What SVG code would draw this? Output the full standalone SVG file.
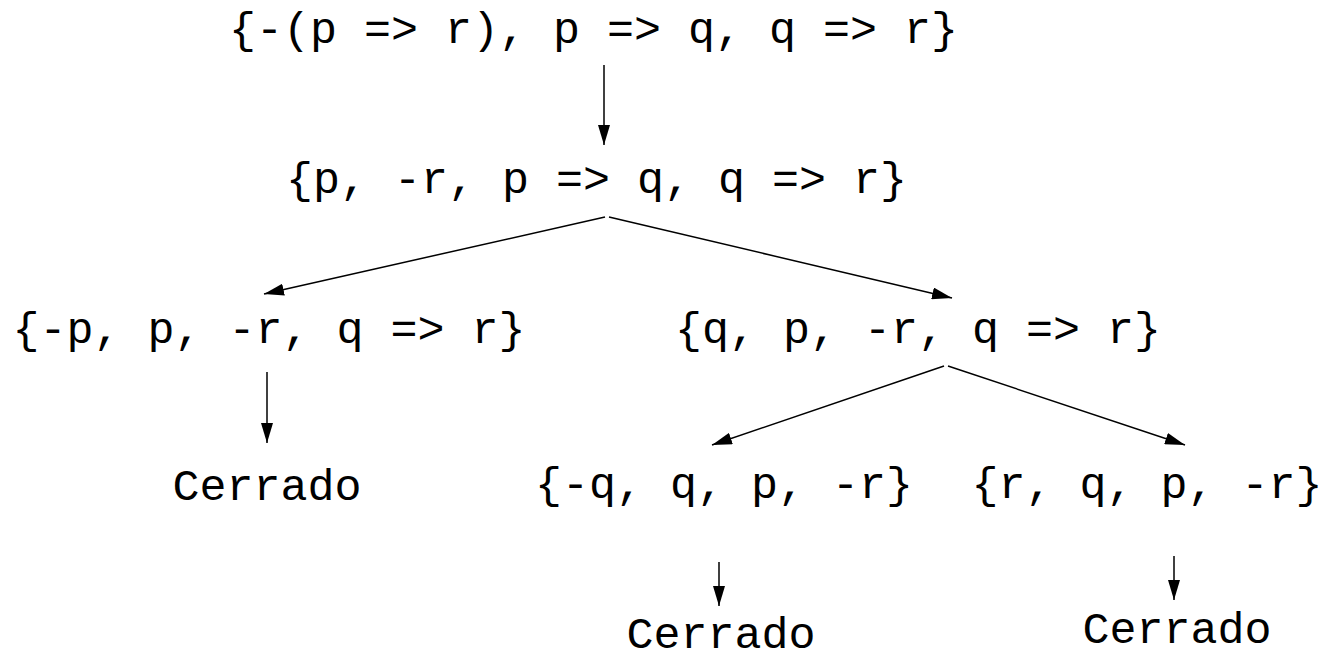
<svg xmlns="http://www.w3.org/2000/svg" width="1328" height="655" viewBox="0 0 1328 655">
<style>
text{font-family:"Liberation Mono","Courier New",monospace;font-size:45px;fill:#000;text-anchor:middle}
text.s{text-anchor:start}
.c{stroke:#000;stroke-width:1.5;fill:none;marker-end:url(#ah)}
</style>
<defs>
<marker id="ah" viewBox="0 0 20 12" refX="20" refY="6" markerWidth="20" markerHeight="12" markerUnits="userSpaceOnUse" orient="auto">
<path d="M0,0 L20,6 L0,12 Z" fill="#000"/>
</marker>
</defs>
<rect width="1328" height="655" fill="#fff"/>
<g id="n1"><text class="s" x="229" y="43">{-(p =&gt; r), p =&gt; q, q =&gt; r}</text></g>
<g id="n2"><text class="s" x="286" y="193">{p, -r, p =&gt; q, q =&gt; r}</text></g>
<g id="n3"><text x="269" y="343">{-p, p, -r, q =&gt; r}</text></g>
<g id="n4"><text x="918" y="343">{q, p, -r, q =&gt; r}</text></g>
<g id="n5"><text x="267" y="500">Cerrado</text></g>
<g id="n6"><text x="724" y="498">{-q, q, p, -r}</text></g>
<g id="n7"><text x="1147" y="498">{r, q, p, -r}</text></g>
<g id="n8"><text x="721" y="648">Cerrado</text></g>
<g id="n9"><text x="1177" y="643">Cerrado</text></g>
<g id="connectors">
<line class="c" x1="604" y1="65" x2="604" y2="145"/>
<line class="c" x1="605" y1="217" x2="264" y2="294"/>
<line class="c" x1="609" y1="217" x2="952" y2="298"/>
<line class="c" x1="267" y1="372" x2="267" y2="443"/>
<line class="c" x1="944" y1="366" x2="712" y2="445"/>
<line class="c" x1="948" y1="366" x2="1185" y2="445"/>
<line class="c" x1="719" y1="562" x2="719" y2="606"/>
<line class="c" x1="1174" y1="556" x2="1174" y2="600"/>
</g>
</svg>
